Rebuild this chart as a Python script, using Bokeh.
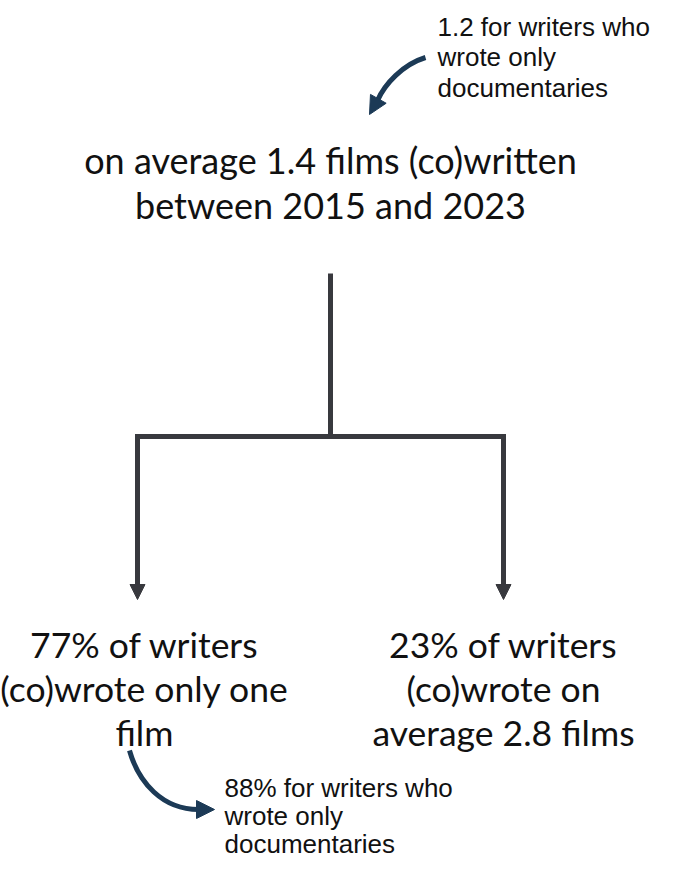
from bokeh.plotting import figure
from bokeh.models import Range1d, Arrow, NormalHead
from bokeh.core.properties import value
from bokeh.embed import file_html
from bokeh.resources import INLINE

# ---- content ----
top_note = ["1.2 for writers who", "wrote only", "documentaries"]
root_label = ["on average 1.4 films (co)written", "between 2015 and 2023"]
left_label = ["77% of writers", "(co)wrote only one", "film"]
right_label = ["23% of writers", "(co)wrote on", "average 2.8 films"]
bottom_note = ["88% for writers who", "wrote only", "documentaries"]

# page has an 8px margin: the canvas covers page pixels 8..674 x 8..865,
# so the ranges are set to page-pixel units
W, H = 666, 857
p = figure(width=W, height=H, output_backend="svg", toolbar_location=None,
           x_range=Range1d(8, 8 + W), y_range=Range1d(8 + H, 8),
           min_border=0, title_location=None)
p.axis.visible = False
p.grid.visible = False
p.outline_line_color = None
p.background_fill_color = "white"
p.border_fill_color = "white"

BIG = value("Lato")
SMALL = value("Liberation Sans")
TREE = "#38393e"
NAVY = "#1c3a56"


def lines(x, y0, dy, texts, font, size, align):
    ys = [y0 + i * dy for i in range(len(texts))]
    p.text(x=[x] * len(texts), y=ys, text=texts, text_font=font,
           text_font_size=size, text_align=align,
           text_baseline="alphabetic", text_color="#111111")


# texts
lines(445, 34, 30.5, top_note, SMALL, "26px", "left")
lines(338, 167, 45, root_label, BIG, "36px", "center")
lines(152, 652, 44, left_label, BIG, "35.5px", "center")
lines(511, 652, 44, right_label, BIG, "35.5px", "center")
lines(232, 795, 28, bottom_note, SMALL, "26px", "left")

# tree connectors
p.line([338, 338], [281, 446], line_color=TREE, line_width=5)
p.line([145, 511], [444, 444], line_color=TREE, line_width=5)
for xx in (145, 511):
    p.add_layout(Arrow(end=NormalHead(size=15, fill_color=TREE, line_color=TREE,
                                      line_width=1),
                       x_start=xx, y_start=441.5, x_end=xx, y_end=607,
                       line_color=TREE, line_width=5))

# curved callout arrows
p.bezier(x0=[433], y0=[65], x1=[385], y1=[108], cx0=[410], cy0=[72],
         cx1=[392], cy1=[92], line_color=NAVY, line_width=5)
p.add_layout(Arrow(end=NormalHead(size=18, fill_color=NAVY, line_color=NAVY),
                   x_start=386, y_start=106, x_end=377, y_end=122,
                   line_color=NAVY, line_width=5))
p.bezier(x0=[137], y0=[758], x1=[206], y1=[817], cx0=[146], cy0=[790],
         cx1=[170], cy1=[817], line_color=NAVY, line_width=5)
p.add_layout(Arrow(end=NormalHead(size=18, fill_color=NAVY, line_color=NAVY),
                   x_start=204, y_start=817, x_end=222, y_end=817,
                   line_color=NAVY, line_width=5))

open("out.html", "w").write(file_html(p, INLINE))
